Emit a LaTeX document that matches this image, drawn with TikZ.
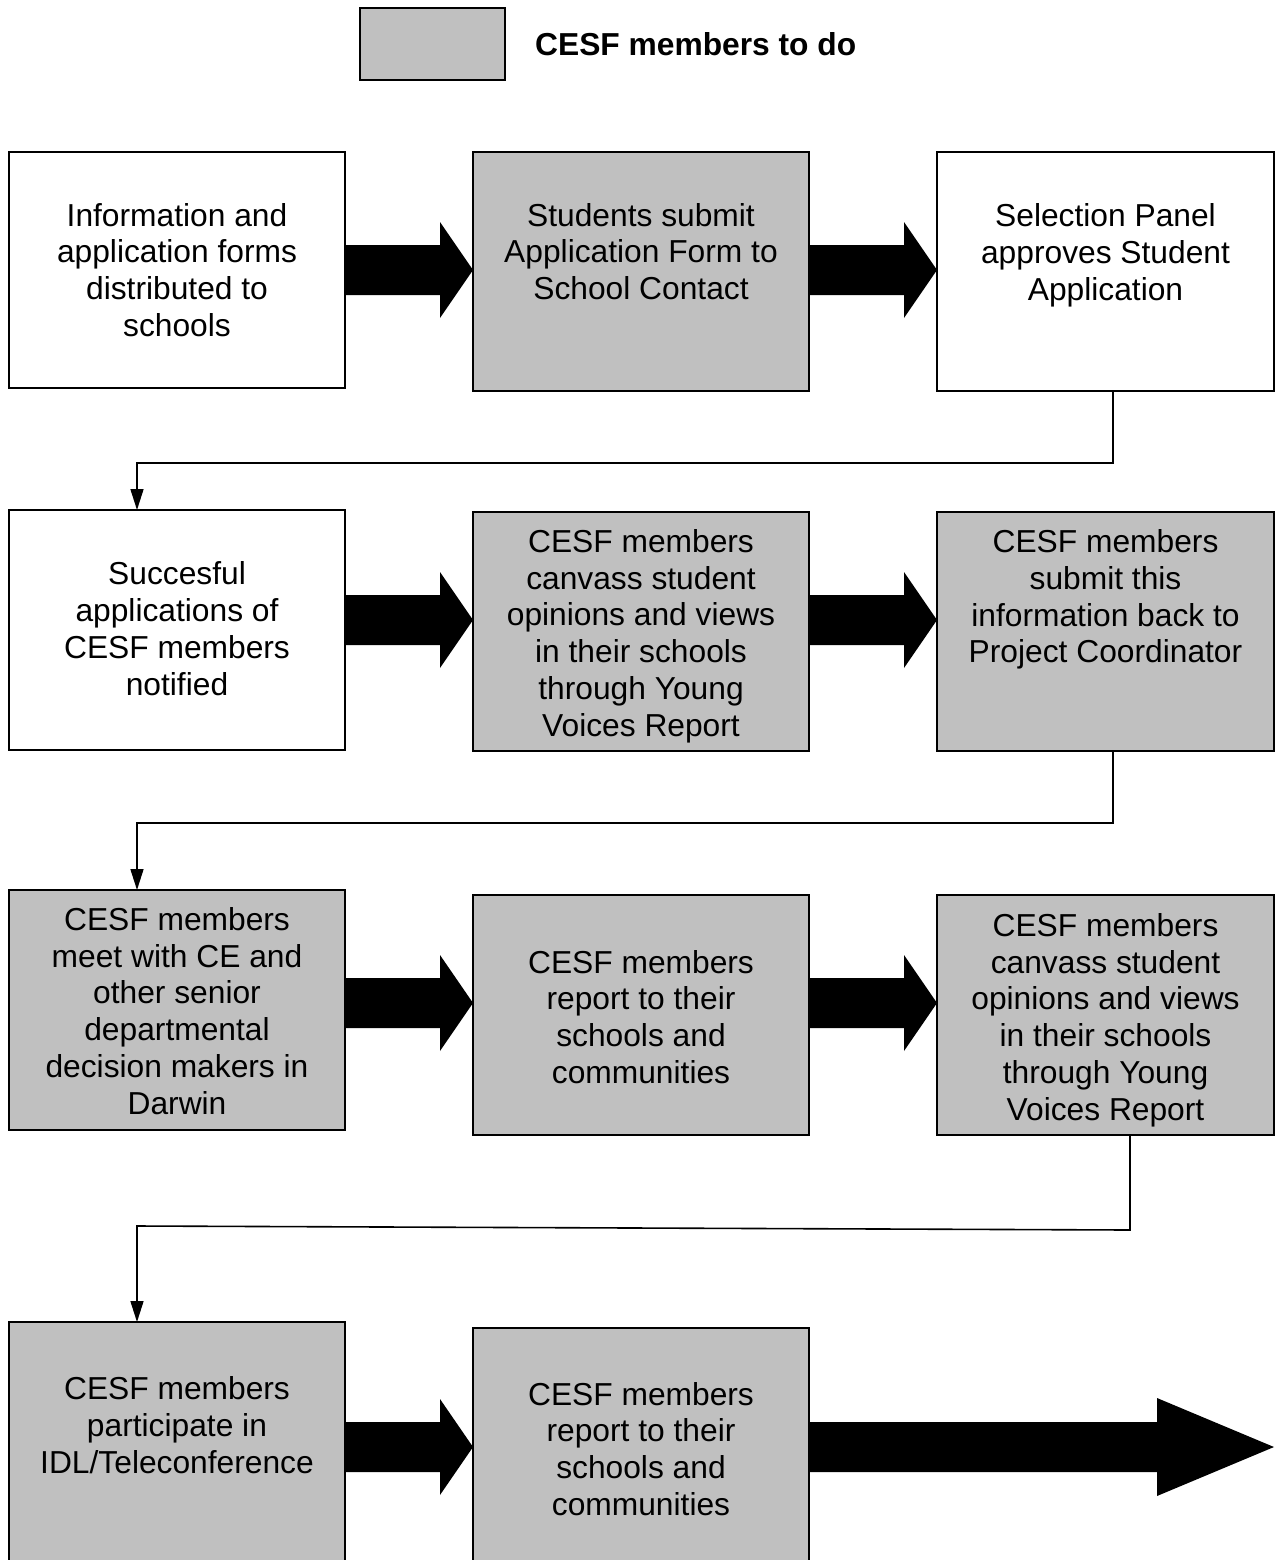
\documentclass[tikz,border=0pt]{standalone}
\usepackage{fontspec}
\setmainfont{Liberation Sans}
\usetikzlibrary{arrows.meta,calc}
\definecolor{boxgray}{HTML}{C0C0C0}
\newcommand\blkarrow[5]{% x-start, head-start, yc, tip, head half-height
  \fill[black] (#1,#3-25) -- (#2,#3-25) -- (#2,#3-#5) -- (#4,#3) -- (#2,#3+#5) -- (#2,#3+25) -- (#1,#3+25) -- cycle;}
\begin{document}
\begin{tikzpicture}[x=1pt,y=-1pt,
  box/.style={draw=black,line width=1.8pt,fill=white,inner sep=0pt,outer sep=0pt},
  todo/.style={box,fill=boxgray},
  txt/.style={inner sep=0pt,align=center,font=\fontsize{31.75}{36.8}\selectfont},
  conn/.style={draw=black,line width=1.6pt,-{Triangle[length=21pt,width=13pt]}}]
\clip (0,0) rectangle (1283,1560);
\fill[white] (0,0) rectangle (1283,1560);
% legend
\node[todo,minimum width=145,minimum height=72] (leg) at (432.5,44) {};
\node[txt,anchor=west,font=\fontsize{31.75}{36.8}\selectfont\bfseries] (legt) at (535,44) {CESF members to do};
% row 1
\node[box,minimum width=336,minimum height=236] (b1) at (177,270) {};
\node[todo,minimum width=336,minimum height=239] (b2) at (641,271.5) {};
\node[box,minimum width=337,minimum height=239] (b3) at (1105.5,271.5) {};
\node[txt] (t1) at (177,270) {Information and\\application forms\\distributed to\\schools};
\node[txt] (t2) at (641,251.5) {Students submit\\Application Form to\\School Contact};
\node[txt] (t3) at (1105.5,255) {Selection Panel\\approves Student\\Application};
\blkarrow{345}{440}{270}{473}{48}
\blkarrow{809}{904}{270}{937}{48}
% row 2
\node[box,minimum width=336,minimum height=240] (b4) at (177,630) {};
\node[todo,minimum width=336,minimum height=239] (b5) at (641,631.5) {};
\node[todo,minimum width=337,minimum height=239] (b6) at (1105.5,631.5) {};
\node[txt] (t4) at (177,628.5) {Succesful\\applications of\\CESF members\\notified};
\node[txt] (t5) at (641,636) {CESF members\\canvass student\\opinions and views\\in their schools\\through Young\\Voices Report};
\node[txt] (t6) at (1105.5,599.5) {CESF members\\submit this\\information back to\\Project Coordinator};
\blkarrow{345}{440}{620}{473}{48}
\blkarrow{809}{904}{620}{937}{48}
% row 3
\node[todo,minimum width=336,minimum height=240] (b7) at (177,1010) {};
\node[todo,minimum width=336,minimum height=240] (b8) at (641,1015) {};
\node[todo,minimum width=337,minimum height=240] (b9) at (1105.5,1015) {};
\node[txt] (t7) at (177,1011) {CESF members\\meet with CE and\\other senior\\departmental\\decision makers in\\Darwin};
\node[txt] (t8) at (641,1017) {CESF members\\report to their\\schools and\\communities};
\node[txt] (t9) at (1105.5,1020) {CESF members\\canvass student\\opinions and views\\in their schools\\through Young\\Voices Report};
\blkarrow{345}{440}{1003}{473}{48}
\blkarrow{809}{904}{1003}{937}{48}
% row 4
\node[todo,minimum width=336,minimum height=248] (b10) at (177,1446) {};
\node[todo,minimum width=336,minimum height=242] (b11) at (641,1449) {};
\node[txt] (t10) at (177,1425) {CESF members\\participate in\\IDL/Teleconference};
\node[txt] (t11) at (641,1449) {CESF members\\report to their\\schools and\\communities};
\blkarrow{345}{440}{1447}{473}{48}
\blkarrow{809}{1157}{1447}{1274}{49}
% connectors
\coordinate (c1a) at ($(b3.south)+(7.5,0)$);
\coordinate (c1b) at ($(b4.north)+(-40,0)$);
\draw[conn] (c1a) -- (c1a |- 0,463) -| (c1b);
\coordinate (c2a) at ($(b6.south)+(7.5,0)$);
\coordinate (c2b) at ($(b7.north)+(-40,0)$);
\draw[conn] (c2a) -- (c2a |- 0,823) -| (c2b);
\coordinate (c3a) at ($(b9.south)+(24.5,0)$);
\coordinate (c3b) at ($(b10.north)+(-40,0)$);
\draw[conn] (c3a) -- (c3a |- 0,1230) -- (c3b |- 0,1226) -- (c3b);
\end{tikzpicture}
\end{document}
